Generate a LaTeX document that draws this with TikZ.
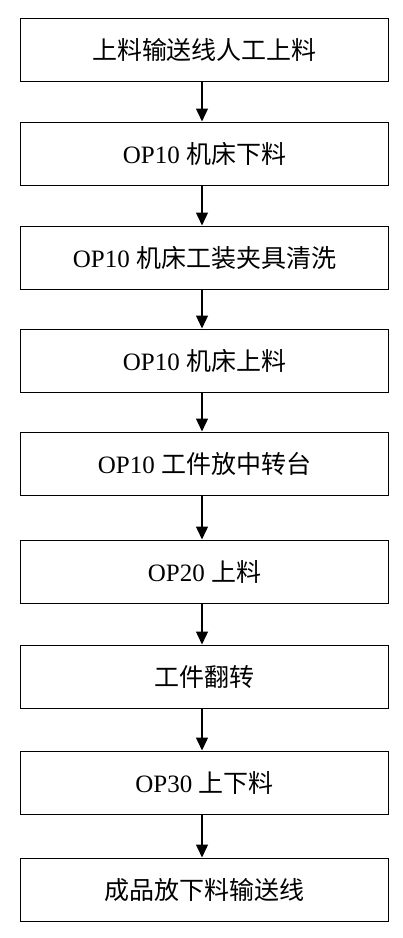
\documentclass[tikz,border=0pt]{standalone}
\usepackage{fontspec}
\setmainfont{Liberation Serif}
\newfontfamily\cjk{Noto Sans CJK SC}
\usetikzlibrary{arrows.meta}
\begin{document}
\begin{tikzpicture}[x=1pt,y=-1pt,
  box/.style={draw=black,line width=1.3pt,minimum width=368pt,minimum height=63pt,inner sep=0pt,font=\fontsize{25}{29}\selectfont,anchor=north},
  arr/.style={-{Triangle[length=13pt,width=12pt]},line width=1.3pt}]
\useasboundingbox (0,0) rectangle (403,938);
\node[box] (b1) at (204.5,17.5) {\cjk 上料输送线人工上料};
\node[box] (b2) at (204.5,121.5) {OP10 {\cjk 机床下料}};
\node[box] (b3) at (204.5,225.5) {OP10 {\cjk 机床工装夹具清洗}};
\node[box] (b4) at (204.5,328.5) {OP10 {\cjk 机床上料}};
\node[box] (b5) at (204.5,431.5) {OP10 {\cjk 工件放中转台}};
\node[box] (b6) at (204.5,539.5) {OP20 {\cjk 上料}};
\node[box] (b7) at (204.5,644.5) {\cjk 工件翻转};
\node[box] (b8) at (204.5,750.5) {OP30 {\cjk 上下料}};
\node[box] (b9) at (204.5,857.5) {\cjk 成品放下料输送线};
\foreach \a/\b in {b1/b2,b2/b3,b3/b4,b4/b5,b5/b6,b6/b7,b7/b8,b8/b9}
  \draw[arr] ([xshift=-2.5pt]\a.south) -- ([xshift=-2.5pt]\b.north);
\end{tikzpicture}
\end{document}
